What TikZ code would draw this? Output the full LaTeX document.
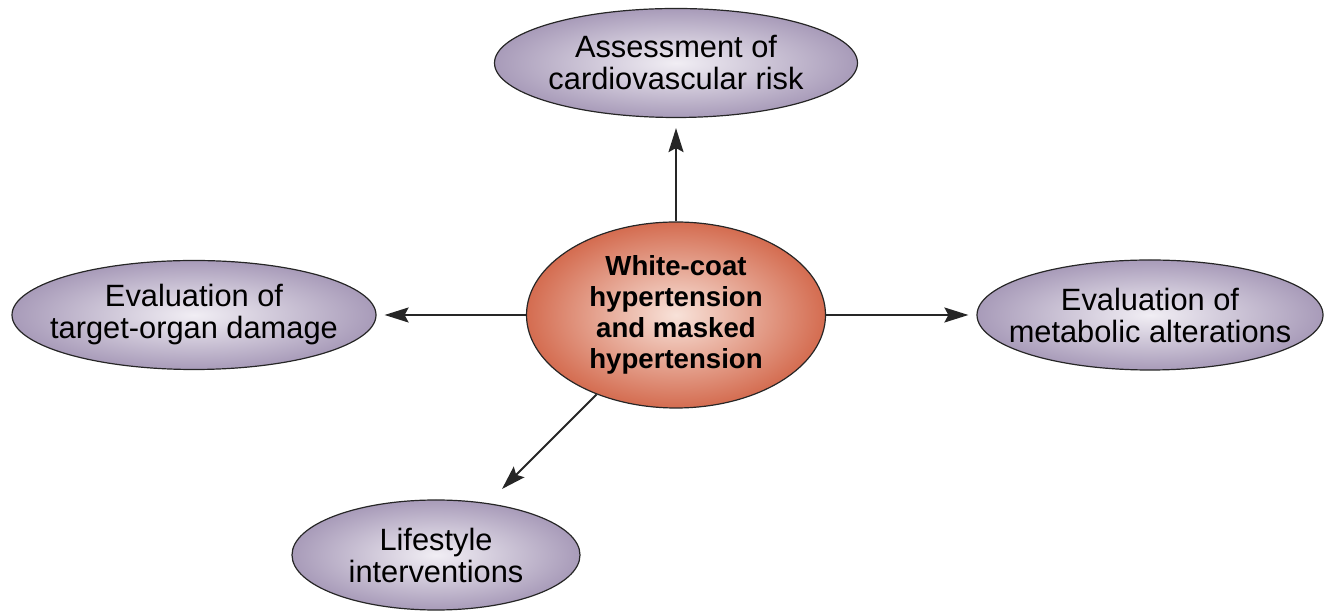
\documentclass[tikz,border=0pt]{standalone}
\usepackage{fontspec}
\setmainfont{Liberation Sans}
\usetikzlibrary{shapes.geometric,arrows.meta}
\definecolor{ovalin}{HTML}{F1EEF4}
\definecolor{ovalout}{HTML}{A89BB9}
\definecolor{hubin}{HTML}{F8E2D9}
\definecolor{hubout}{HTML}{D46C50}
% lines that do not widen the ellipse
\newcommand{\flatline}[1]{\makebox[0pt]{#1}}
\begin{document}
\begin{tikzpicture}[x=0.5pt,y=-0.5pt,
    oval/.style={ellipse,draw=black!85,line width=0.6pt,inner sep=0pt,
      inner color=ovalin,outer color=ovalout,align=center,
      font=\fontsize{15.4}{16}\selectfont},
    link/.style={line width=1pt,black!85,-{Stealth[length=12pt,width=7.5pt,inset=2pt]},shorten >=4pt}]
    \useasboundingbox (0,0) rectangle (1327,613);
    \node[oval,minimum width=149.5pt,minimum height=93pt,inner color=hubin,outer color=hubout,
      font=\fontsize{13.8}{15.5}\selectfont\bfseries] (hub) at (676,315)
      {White-coat\\hypertension\\and masked\\hypertension};
    \node[oval,minimum width=181.5pt,minimum height=54.5pt] (risk) at (676,63)
      {\flatline{Assessment of}\\\flatline{cardiovascular risk}};
    \node[oval,minimum width=182pt,minimum height=54.5pt] (organ) at (194,315)
      {\flatline{Evaluation of}\\\flatline{target-organ damage}};
    \node[oval,minimum width=173pt,minimum height=55pt] (metab) at (1150,315)
      {\flatline{Evaluation of}\\\flatline{metabolic alterations}};
    \node[oval,minimum width=144pt,minimum height=55pt] (life) at (436,555)
      {\flatline{Lifestyle}\\\flatline{interventions}};
    \draw[link,shorten >=5pt] (hub) -- (risk);
    \draw[link] (hub) -- (organ);
    \draw[link] (hub) -- (metab);
    \draw[link,shorten >=10pt] (hub) -- (life);
\end{tikzpicture}
\end{document}
